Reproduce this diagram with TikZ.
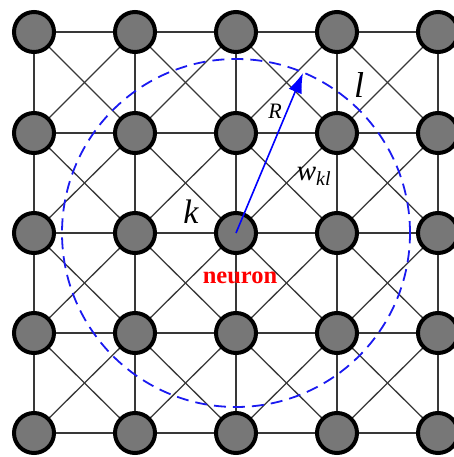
\documentclass[tikz,border=0pt]{standalone}
\usepackage{fontspec}
\setmainfont{Liberation Serif}
\usetikzlibrary{arrows.meta,backgrounds}
\definecolor{nodegray}{HTML}{777777}
\definecolor{linegray}{HTML}{383838}
\definecolor{dashblue}{HTML}{1A1AF0}
\tikzset{
  neur/.style={circle,draw=black,line width=4pt,fill=nodegray,minimum size=40pt,inner sep=0pt},
  link/.style={draw=linegray,line width=1.3pt},
  lbl/.style={font=\itshape,inner sep=0pt}
}
\begin{document}
\begin{tikzpicture}[x=1pt,y=-1pt]
\useasboundingbox (0,0) rectangle (454,457);
\clip (0,0) rectangle (454,457);
\foreach \i/\x in {0/34,1/135,2/236,3/337,4/438}{
  \foreach \j/\y in {0/32,1/133,2/233,3/333,4/433}{
    \node[neur] (n-\i-\j) at (\x,\y) {};
  }
}
\begin{scope}[on background layer]
\foreach \i [evaluate=\i as \ni using int(\i+1)] in {0,1,2,3}{
  \foreach \j in {0,1,2,3,4}{
    \draw[link] (n-\i-\j.center) -- (n-\ni-\j.center);
    \draw[link] (n-\j-\i.center) -- (n-\j-\ni.center);
  }
  \foreach \j [evaluate=\j as \nj using int(\j+1)] in {0,1,2,3}{
    \draw[link] (n-\i-\j.center) -- (n-\ni-\nj.center);
    \draw[link] (n-\ni-\j.center) -- (n-\i-\nj.center);
  }
}
\end{scope}
\node[circle,draw=dashblue,line width=1.8pt,dash pattern=on 12pt off 7pt,minimum size=348pt,inner sep=0pt] (zone) at (n-2-2.center) {};
\coordinate (tip) at (303,73);
\draw[blue,line width=1.6pt,-{Latex[length=20pt,width=14pt]}] (n-2-2.center) -- (tip);
\node[lbl,font=\itshape\fontsize{22}{22}\selectfont] (R) at (275,111) {R};
\node[lbl,font=\itshape\fontsize{29}{29}\selectfont] (w) at (314,176) {w\textsubscript{\fontsize{20}{20}\selectfont kl}};
\node[lbl,font=\itshape\fontsize{34}{34}\selectfont] (k) at (191,212) {k};
\node[lbl,font=\itshape\fontsize{36}{36}\selectfont] (l) at (359,85) {l};
\node[inner sep=0pt,text=red,font=\bfseries\fontsize{24.5}{24.5}\selectfont] (neu) at (240,278) {neuron};
\end{tikzpicture}
\end{document}
